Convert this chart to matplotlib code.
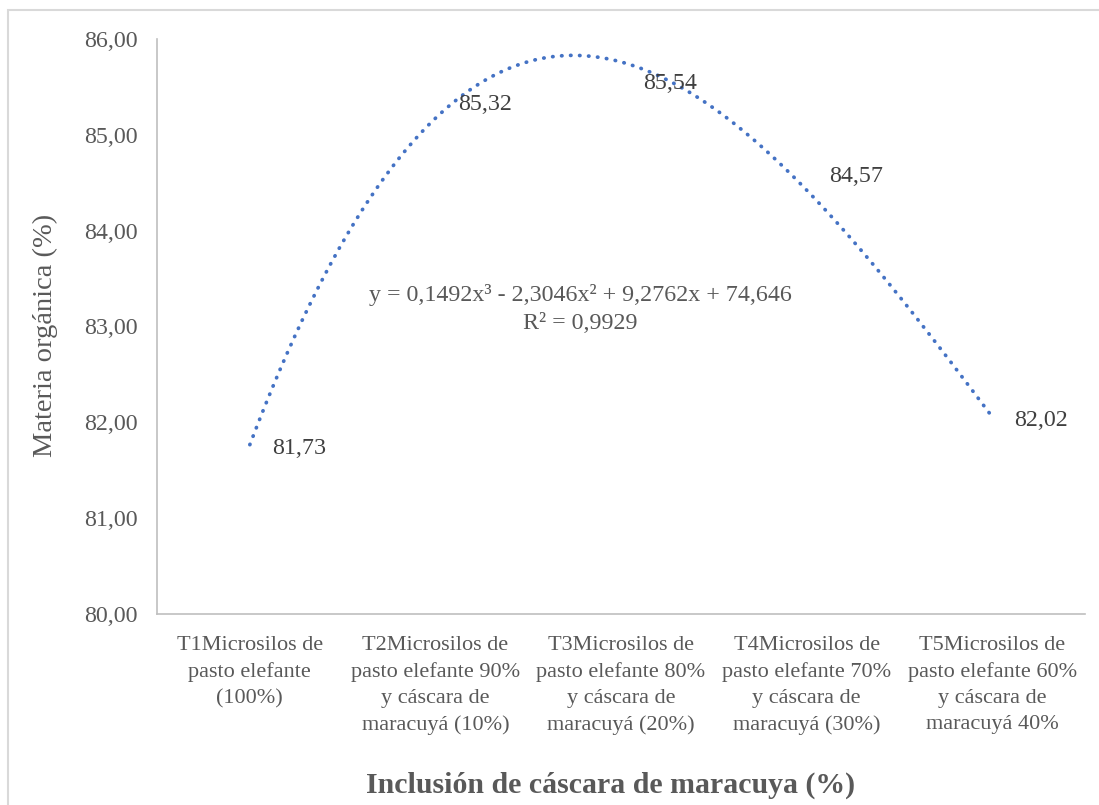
import matplotlib.pyplot as plt
import numpy as np
from matplotlib.patches import Rectangle
from matplotlib.ticker import FuncFormatter

# data
categories = [
    "T1Microsilos de\npasto elefante\n(100%)",
    "T2Microsilos de\npasto elefante 90%\ny cáscara de\nmaracuyá (10%)",
    "T3Microsilos de\npasto elefante 80%\ny cáscara de\nmaracuyá (20%)",
    "T4Microsilos de\npasto elefante 70%\ny cáscara de\nmaracuyá (30%)",
    "T5Microsilos de\npasto elefante 60%\ny cáscara de\nmaracuyá 40%",
]
materia_organica = [81.73, 85.32, 85.54, 84.57, 82.02]
equation_text = "y = 0,1492x³ - 2,3046x² + 9,2762x + 74,646\nR² = 0,9929"
y_ticks = [80, 81, 82, 83, 84, 85, 86]

plt.rcParams['font.family'] = ['Liberation Serif', 'DejaVu Serif']

tick_color = '#595959'
label_color = '#404040'
line_color = '#4472C4'

fig = plt.figure(figsize=(10.99, 8.05), dpi=100)
ax = fig.add_axes([0.1429, 0.2373, 0.8444, 0.7143])

x = np.arange(1, len(categories) + 1)
y = np.array(materia_organica)

# cubic trendline fitted to the data
coefs = np.polyfit(x, y, 3)
xs = np.linspace(x[0], x[-1], 300)
ax.plot(xs, np.polyval(coefs, xs), color=line_color, linestyle=(0, (0.1, 2.3)),
        linewidth=2.7, dash_capstyle='round')

# data labels, to the right of each point
for xi, yi in zip(x, y):
    ax.annotate(f"{yi:.2f}".replace('.', ','), (xi, yi), xytext=(16, 0),
                textcoords='offset points', ha='left', va='center',
                fontsize=17.3, color=label_color)

ax.text(2.78, 83.18, equation_text, ha='center', va='center', fontsize=17.3,
        color=tick_color, linespacing=1.45)

ax.set_xlim(0.5, len(categories) + 0.5)
ax.set_ylim(80, 86)
ax.set_yticks(y_ticks)
ax.yaxis.set_major_formatter(FuncFormatter(lambda v, p: f"{v:.2f}".replace('.', ',')))
ax.set_xticks(x)
ax.set_xticklabels(categories, linespacing=1.48, fontsize=16)

ax.tick_params(axis='both', length=0, colors=tick_color)
ax.tick_params(axis='y', pad=14, labelsize=17.3)
ax.tick_params(axis='x', pad=16)

for side in ['top', 'right']:
    ax.spines[side].set_visible(False)
for side in ['left', 'bottom']:
    ax.spines[side].set_color('#BFBFBF')
    ax.spines[side].set_linewidth(1.2)

ax.set_ylabel("Materia orgánica (%)", fontsize=20.5, color=tick_color)
ax.yaxis.set_label_coords(-0.1067, 0.485)
fig.text(0.556, 0.025, "Inclusión de cáscara de maracuya (%)", ha='center',
         va='center', fontsize=21.5, fontweight='bold', color=tick_color)

# chart border
fig.patches.append(Rectangle((8 / 1099, -0.1), 1.2, 1.1 - 10 / 805,
                             transform=fig.transFigure, fill=False,
                             edgecolor='#D9D9D9', linewidth=1.5))

fig.savefig('out.png', dpi=100)
